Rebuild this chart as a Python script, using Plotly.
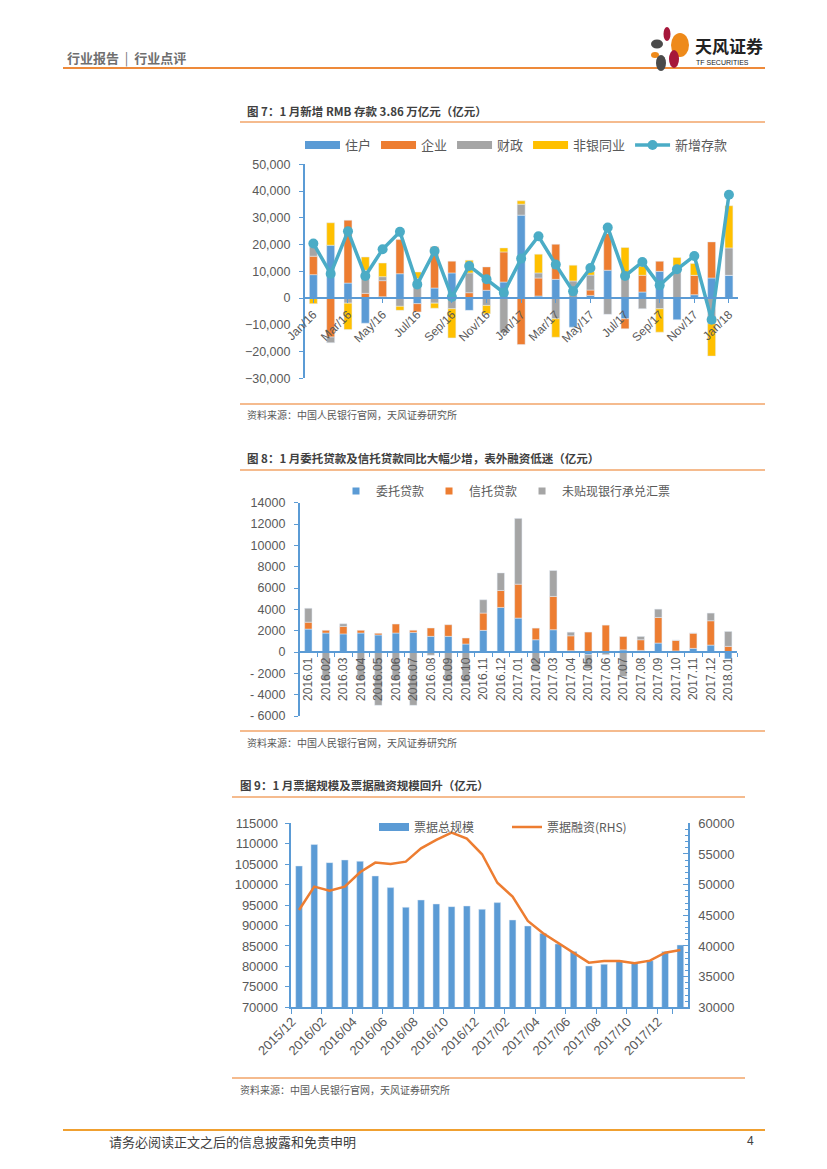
import plotly.graph_objects as go

W, H = 827, 1169
def fx(x): return x / W
def fy(y): return 1 - y / H

FONT = "Liberation Sans, Noto Sans CJK SC, sans-serif"
CJK = "Noto Sans CJK SC, sans-serif"
GRAY_TXT = "#595959"
AXBLUE = "#5B9BD5"
BLUE, ORANGE, GREY, YELLOW, TEAL = "#5B9BD5", "#ED7D31", "#A5A5A5", "#FFC000", "#4BACC6"

# ---------------- Chart 1 data ----------------
months1 = ["Jan/16", "Feb/16", "Mar/16", "Apr/16", "May/16", "Jun/16", "Jul/16", "Aug/16",
           "Sep/16", "Oct/16", "Nov/16", "Dec/16", "Jan/17", "Feb/17", "Mar/17", "Apr/17",
           "May/17", "Jun/17", "Jul/17", "Aug/17", "Sep/17", "Oct/17", "Nov/17", "Dec/17", "Jan/18"]
household = [8750, 19750, 5600, -9400, 500, 9100, -2100, 3750, 9400, -4600, 2900, 6000,
             31000, 750, 7000, -10900, 1000, 10400, -7750, 2250, 10000, -8100, 1250, 7500, 8500]
corporate = [6900, -14600, 23500, 1750, 6000, 12750, -3100, 15400, 4400, 2000, 8750, 11250,
             -17400, 6750, 13100, 0, 2000, 13750, -3750, 6250, 3750, 0, 7250, 13500, 0]
fiscal = [3500, -2100, -1900, 8600, 1500, -3100, 7250, -1900, -4000, 7400, -2750, -13000,
          4100, 1900, -7750, 6400, 5600, -6100, 7900, -4000, -4000, 11900, 0, -9600, 10250]
nonbank = [-2100, 8400, -9900, 5000, 5100, -1500, 2500, -1900, -10900, 4750, -3100, 1500,
           1250, 7000, -6900, 5900, 1250, 0, 11000, 3400, -8750, 3250, 4400, -12100, 15750]
new_deposits = [20400, 9100, 25000, 8250, 18250, 24750, 5100, 17600, 400, 12000, 7000, 2000,
                14750, 23100, 12500, 2500, 11250, 26400, 8250, 13500, 4750, 10750, 15750, -8100, 38600]
names1 = ["住户", "企业", "财政", "非银同业", "新增存款"]

# ---------------- Chart 2 data ----------------
months2 = ["2016.01", "2016.02", "2016.03", "2016.04", "2016.05", "2016.06", "2016.07", "2016.08",
           "2016.09", "2016.10", "2016.11", "2016.12", "2017.01", "2017.02", "2017.03", "2017.04",
           "2017.05", "2017.06", "2017.07", "2017.08", "2017.09", "2017.10", "2017.11", "2017.12", "2018.01"]
entrusted = [2150, 1780, 1700, 1780, 1600, 1780, 1840, 1470, 1470, 750, 2030, 4180,
             3180, 1150, 2090, 120, -250, 50, 200, 150, 840, 100, 340, 650, -650]
trust = [650, 250, 700, 250, 150, 840, 200, 780, 1090, 560, 1620, 1590,
         3180, 1090, 3120, 1400, 1870, 2470, 1250, 1000, 2400, 1000, 1430, 2280, 530]
undiscounted = [1300, -2600, 250, -2600, -5000, -2600, -5000, -300, -2750, -2800, 1250, 1650,
                6170, -1800, 2430, 340, -1300, -250, -2300, 310, 780, 0, 0, 720, 1400]
names2 = ["委托贷款", "信托贷款", "未贴现银行承兑汇票"]
y2_ticks = [14000, 12000, 10000, 8000, 6000, 4000, 2000, 0, -2000, -4000, -6000]
y2_text = ["14000", "12000", "10000", "8000", "6000", "4000", "2000", "0", "- 2000", "- 4000", "- 6000"]

# ---------------- Chart 3 data ----------------
months3 = ["2015/12", "2016/01", "2016/02", "2016/03", "2016/04", "2016/05", "2016/06", "2016/07",
           "2016/08", "2016/09", "2016/10", "2016/11", "2016/12", "2017/01", "2017/02", "2017/03",
           "2017/04", "2017/05", "2017/06", "2017/07", "2017/08", "2017/09", "2017/10", "2017/11",
           "2017/12", "2018/01"]
bill_total = [104570, 109800, 105380, 106040, 105710, 102120, 99270, 94460, 96250, 95270, 94620,
              94780, 93970, 95600, 91360, 89890, 88100, 85490, 83620, 80110, 80520, 81410, 80760,
              81410, 83620, 85250]
bill_finance = [45870, 49670, 49020, 49670, 52010, 53590, 53370, 53750, 55920, 57280, 58480,
                57500, 54950, 50300, 48040, 44080, 42070, 40430, 38800, 37280, 37550, 37550,
                37170, 37610, 38910, 39350]
names3 = ["票据总规模", "票据融资(RHS)"]

fig = go.Figure()

# ---- chart 1 traces ----
for vals, col in zip([household, corporate, fiscal, nonbank], [BLUE, ORANGE, GREY, YELLOW]):
    fig.add_trace(go.Bar(x=months1, y=vals, marker_color=col, width=0.46, showlegend=False,
                         xaxis="x", yaxis="y"))
for nm, col in zip(names1[:4], [BLUE, ORANGE, GREY, YELLOW]):
    fig.add_trace(go.Scatter(x=[None], y=[None], mode="lines", line=dict(color=col, width=8),
                             name=nm, legend="legend", xaxis="x", yaxis="y"))
fig.add_trace(go.Scatter(x=months1, y=new_deposits, mode="lines+markers", name=names1[4],
                         line=dict(color=TEAL, width=3.5), marker=dict(size=10, color=TEAL),
                         legend="legend", xaxis="x", yaxis="y"))

# ---- chart 2 traces ----
for vals, col in zip([entrusted, trust, undiscounted], [BLUE, ORANGE, GREY]):
    fig.add_trace(go.Bar(x=months2, y=vals, marker_color=col, width=0.42, showlegend=False,
                         xaxis="x2", yaxis="y2"))
for nm, col in zip(names2, [BLUE, ORANGE, GREY]):
    fig.add_trace(go.Scatter(x=[None], y=[None], mode="markers",
                             marker=dict(symbol="square", size=7, color=col),
                             name=nm, legend="legend2", xaxis="x2", yaxis="y2"))

# ---- chart 3 traces ----
fig.add_trace(go.Bar(x=months3, y=bill_total, marker_color=BLUE, width=0.44, showlegend=False,
                     xaxis="x3", yaxis="y3"))
fig.add_trace(go.Scatter(x=[None], y=[None], mode="lines", line=dict(color=BLUE, width=8),
                         name=names3[0], legend="legend3", xaxis="x3", yaxis="y3"))
fig.add_trace(go.Scatter(x=months3, y=bill_finance, mode="lines", name=names3[1],
                         line=dict(color=ORANGE, width=2.5), legend="legend3",
                         xaxis="x3", yaxis="y4"))

# ---- geometry ----
y1_dom = [fy(378.3), fy(164.3)]
y2_dom = [fy(716), fy(502.7)]
y3_dom = [fy(1007.3), fy(823.3)]
zero1 = y1_dom[0] + (0 - (-30000)) / 80000 * (y1_dom[1] - y1_dom[0])
zero2 = y2_dom[0] + (0 - (-6000)) / 20000 * (y2_dom[1] - y2_dom[0])

tickfont = dict(family=FONT, size=12, color=GRAY_TXT)

fig.update_layout(
    width=W, height=H, margin=dict(l=0, r=0, t=0, b=0, pad=0, autoexpand=False),
    paper_bgcolor="white", plot_bgcolor="rgba(0,0,0,0)",
    barmode="relative",
    font=dict(family=FONT, color=GRAY_TXT),
    xaxis=dict(domain=[fx(304.7), fx(737.6)], type="category", anchor="free", position=zero1,
               range=[-0.5, 24.5], tickvals=months1[::2], tickangle=-45,
               showline=True, linecolor=AXBLUE, linewidth=1.5, ticks="outside", ticklen=4,
               tickcolor=AXBLUE, tickfont=tickfont, showgrid=False, zeroline=False),
    yaxis=dict(domain=y1_dom, anchor="x", range=[-30000, 50000], dtick=10000, tickformat=",",
               showline=True, linecolor=AXBLUE, linewidth=1.5, ticks="outside", ticklen=4,
               tickcolor=AXBLUE, tickfont=dict(family=FONT, size=12.5, color=GRAY_TXT),
               showgrid=False, zeroline=False, ticklabelstandoff=6),
    xaxis2=dict(domain=[fx(299.6), fx(737)], type="category", anchor="free", position=zero2,
                range=[-0.5, 24.5], tickangle=-90, tickson="boundaries",
                showline=True, linecolor=AXBLUE, linewidth=1.5, ticks="outside", ticklen=4,
                tickcolor=AXBLUE, tickfont=tickfont, showgrid=False, zeroline=False),
    yaxis2=dict(domain=y2_dom, anchor="x2", range=[-6000, 14000], tickvals=y2_ticks,
                ticktext=y2_text, showline=True, linecolor=AXBLUE, linewidth=1.5,
                ticks="outside", ticklen=4, tickcolor=AXBLUE,
                tickfont=dict(family=FONT, size=12.5, color=GRAY_TXT),
                showgrid=False, zeroline=False, ticklabelstandoff=6),
    xaxis3=dict(domain=[fx(291.4), fx(688)], type="category", anchor="y3",
                range=[-0.5, 25.5], tickvals=months3[::2], tickangle=-45, tickson="boundaries",
                ticklabelshift=-7, showline=True, linecolor=AXBLUE, linewidth=1.5,
                ticks="outside", ticklen=5, tickcolor=AXBLUE,
                tickfont=dict(family=FONT, size=13, color=GRAY_TXT), showgrid=False, zeroline=False),
    yaxis3=dict(domain=y3_dom, anchor="x3", range=[70000, 115000], dtick=5000, tickformat="d",
                showline=True, linecolor=AXBLUE, linewidth=1.5, ticks="outside", ticklen=5,
                tickcolor=AXBLUE, tickfont=dict(family=FONT, size=13, color=GRAY_TXT),
                showgrid=False, zeroline=False, ticklabelstandoff=4),
    yaxis4=dict(overlaying="y3", anchor="x3", side="right", range=[30000, 60000], dtick=5000,
                tickformat="d",
                showline=True, linecolor=AXBLUE, linewidth=1.5, ticks="inside", ticklen=5,
                tickcolor=AXBLUE, tickfont=dict(family=FONT, size=13, color=GRAY_TXT),
                minor=dict(dtick=1000, ticks="inside", ticklen=3, tickcolor=AXBLUE),
                showgrid=False, zeroline=False, ticklabelstandoff=6),
    legend=dict(orientation="h", x=fx(300), y=fy(145), xanchor="left", yanchor="middle",
                bgcolor="rgba(0,0,0,0)", font=dict(family=CJK, size=13, color=GRAY_TXT),
                itemwidth=35, traceorder="normal"),
    legend2=dict(orientation="h", x=fx(336), y=fy(491), xanchor="left", yanchor="middle",
                 bgcolor="rgba(0,0,0,0)", font=dict(family=CJK, size=12, color=GRAY_TXT),
                 itemwidth=30, traceorder="normal"),
    legend3=dict(orientation="h", x=fx(374), y=fy(827), xanchor="left", yanchor="middle",
                 bgcolor="rgba(0,0,0,0)", font=dict(family=CJK, size=12, color=GRAY_TXT),
                 itemwidth=30, traceorder="normal", entrywidth=88, entrywidthmode="pixels"),
)

# ---- page decorations ----
shapes = []
def hline(y, x0, x1, color, w):
    shapes.append(dict(type="line", xref="paper", yref="paper", x0=fx(x0), x1=fx(x1),
                       y0=fy(y), y1=fy(y), line=dict(color=color, width=w)))
hline(68, 63, 765, "#EE8A3A", 2)
hline(1130, 63, 765, "#F0A030", 2)
SEC = "#F2A469"
hline(122, 240, 765, SEC, 1.5)
hline(404, 240, 765, SEC, 1.5)
hline(470, 240, 765, SEC, 1.5)
hline(731, 240, 765, SEC, 1.5)
hline(797, 232, 745, SEC, 1.5)
hline(1078, 232, 745, SEC, 1.5)

def ell(cx, cy, rx, ry, color):
    shapes.append(dict(type="circle", xref="paper", yref="paper",
                       x0=fx(cx - rx), x1=fx(cx + rx), y0=fy(cy + ry), y1=fy(cy - ry),
                       fillcolor=color, line=dict(width=0)))
ell(667, 34, 3.5, 7, "#A6163A")
ell(657, 44, 6, 4.5, "#4A4A4A")
ell(680, 45, 9, 12, "#EE8A1A")
ell(655, 55, 4, 3, "#EE8A1A")
ell(674, 59, 5, 9, "#A6163A")
ell(661, 63, 5, 8, "#4A4A4A")
fig.update_layout(shapes=shapes)

ann = []
def txt(x, y, s, size, color="#404040", anchor="left", family=CJK):
    ann.append(dict(x=fx(x), y=fy(y), xref="paper", yref="paper", text=s, showarrow=False,
                    xanchor=anchor, yanchor="middle", font=dict(family=family, size=size, color=color)))
txt(65, 57, "<b>行业报告</b>  |  <b>行业点评</b>", 13, "#6F6F6F")
txt(693, 46, "<b>天风证券</b>", 17, "#222222")
txt(694, 63, "TF SECURITIES", 7, "#222222", family="Liberation Sans Narrow, Liberation Sans")
txt(245, 111, "<b>图 7：1 月新增 RMB 存款 3.86 万亿元（亿元）</b>", 11.5, "#404040")
txt(245, 415, "资料来源：中国人民银行官网，天风证券研究所", 10, GRAY_TXT)
txt(245, 458, "<b>图 8：1 月委托贷款及信托贷款同比大幅少增，表外融资低迷（亿元）</b>", 11.5, "#404040")
txt(245, 742, "资料来源：中国人民银行官网，天风证券研究所", 10, GRAY_TXT)
txt(238, 785, "<b>图 9：1 月票据规模及票据融资规模回升（亿元）</b>", 11.5, "#404040")
txt(238, 1089, "资料来源：中国人民银行官网，天风证券研究所", 10, GRAY_TXT)
txt(107, 1141, "请务必阅读正文之后的信息披露和免责申明", 13, "#404040")
txt(756, 1141, "4", 12, "#404040", anchor="right", family=FONT)
fig.update_layout(annotations=ann)

fig.write_html("out.html", config={"displayModeBar": False},
               post_script="document.body.style.margin='0';")
